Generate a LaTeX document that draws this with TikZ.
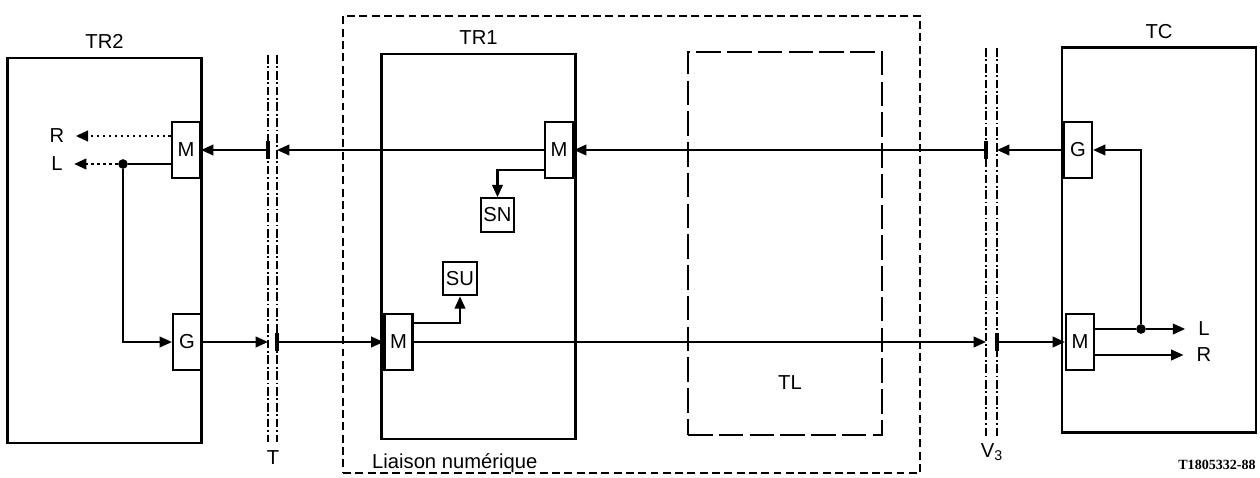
\documentclass[tikz,border=0pt]{standalone}
\usepackage{fontspec}
\setmainfont{Liberation Sans}
\newfontfamily\codefont{Liberation Serif}
\usetikzlibrary{positioning,arrows.meta}

\begin{document}
\begin{tikzpicture}[
  x=0.02cm, y=-0.02cm,
  >={Triangle[length=7pt,width=6pt]},
  font=\fontsize{11.5}{13}\selectfont,
  term/.style={draw, line width=1.3pt, minimum width=3.88cm, minimum height=7.7cm, inner sep=0pt},
  blk/.style={draw, line width=1.2pt, minimum width=0.56cm, minimum height=1.12cm, inner sep=0pt},
  sub/.style={draw, line width=1.2pt, minimum size=0.67cm, inner sep=0pt},
  sig/.style={line width=1.2pt},
  dotsig/.style={line width=1.4pt, dotted, shorten >=3pt},
  outsig/.style={line width=1.2pt, shorten >=4pt},
  iface/.style={line width=1.1pt, dash pattern=on 5pt off 1.5pt on 1pt off 1.5pt},
  tickbar/.style={line width=1.8pt},
  junc/.style={circle, fill, inner sep=0pt, minimum size=5.5pt},
  ttl/.style={label distance=1pt}
]
  \useasboundingbox (0,0) rectangle (1260,477);

  % digital link and its parts
  \node[draw, line width=1.1pt, dash pattern=on 4.5pt off 2.5pt,
        minimum width=11.54cm, minimum height=9.14cm] (liaison) at (631.5,244.5) {};
  \node[anchor=west] (liaisontxt) at (366,463) {Liaison numérique};
  \node[term, label={[ttl]above:TR1}] (tr1) at (478.5,246.5) {};
  \node[term, line width=1.2pt, dash pattern=on 14pt off 3.5pt, minimum height=7.66cm] (tl) at (785,243.5) {};
  \node (tltxt) at (790,383) {TL};

  % terminals
  \node[term, label={[ttl]above:TR2}] (tr2) at (104.5,250.5) {};
  \node[term, label={[ttl]above:TC}] (tc) at (1159,240) {};

  % interfaces T and V3
  \coordinate (tlT) at (268,55);  \coordinate (tlB) at (268,442);
  \coordinate (trT) at (277,55);  \coordinate (trB) at (277,442);
  \coordinate (vlT) at (986,48);  \coordinate (vlB) at (986,437);
  \coordinate (vrT) at (997,48);  \coordinate (vrB) at (997,437);
  \draw[iface] (tlT) -- (tlB);
  \draw[iface] (trT) -- (trB);
  \draw[iface] (vlT) -- (vlB);
  \draw[iface] (vrT) -- (vrB);
  \node (tlbl) at (273,458) {T};
  \node (vlbl) at (992,452) {V\textsubscript{3}};

  % blocks
  \node[blk] (mB) at (186,150) {M};
  \node[blk] (gB) at (187,342) {G};
  \node[blk] (mA) at (559,150) {M};
  \node[sub] (sn) at (497.5,215) {SN};
  \node[sub] (su) at (460,278.5) {SU};
  \node[blk] (mD) at (398.5,342) {M};
  \node[blk] (gC) at (1078,150) {G};
  \node[blk] (mC) at (1080,342) {M};

  % upper path, TC to TR2
  \draw[sig,->] (gC.west) -- (gC.west -| vrT);
  \draw[tickbar] ([yshift=5pt]vlT |- gC) -- ([yshift=-5pt]vlT |- gC);
  \draw[sig,->] (vlT |- gC) -- (mA.east);
  \draw[sig,->] (mA.west) -- (mA.west -| trT);
  \draw[tickbar] ([yshift=5pt]tlT |- mA) -- ([yshift=-5pt]tlT |- mA);
  \draw[sig,->] (tlT |- mA) -- (mB.east);
  \draw[sig,->] ([yshift=-0.4cm]mA.west) -| (sn);

  % lower path, TR2 to TC
  \draw[sig,->] (gB.east) -- (gB.east -| tlT);
  \draw[tickbar] ([yshift=5pt]trT |- gB) -- ([yshift=-5pt]trT |- gB);
  \draw[sig,->] (trT |- gB) -- (mD.west);
  \draw[sig,->] (mD.east) -- (mD.east -| vlT);
  \draw[tickbar] ([yshift=5pt]vrT |- mD) -- ([yshift=-5pt]vrT |- mD);
  \draw[sig,->] (vrT |- mD) -- (mC.west);
  \draw[sig,->] ([yshift=0.38cm]mD.east) -| (su);

  % TR2 outputs
  \node (rB) at (57,136) {R};
  \node (lB) at (57,164) {L};
  \node[junc] (jB) at (123,164) {};
  \draw[dotsig,->] (mB.west |- rB) -- (rB);
  \draw[sig] (mB.west |- jB) -- (jB);
  \draw[dotsig,->] (jB) -- (lB);
  \draw[sig,->] (jB) |- (gB.west);

  % TC outputs
  \node (lC) at (1204,329) {L};
  \node (rC) at (1204,355) {R};
  \node[junc] (jC) at (1141,329) {};
  \draw[sig] (mC.east |- jC) -- (jC);
  \draw[outsig,->] (jC) -- (lC);
  \draw[outsig,->] (mC.east |- rC) -- (rC);
  \draw[sig,->] (jC) |- (gC.east);

  \node[font=\codefont\fontsize{8}{9}\selectfont\bfseries] (code) at (1217,465) {T1805332-88};
\end{tikzpicture}
\end{document}
